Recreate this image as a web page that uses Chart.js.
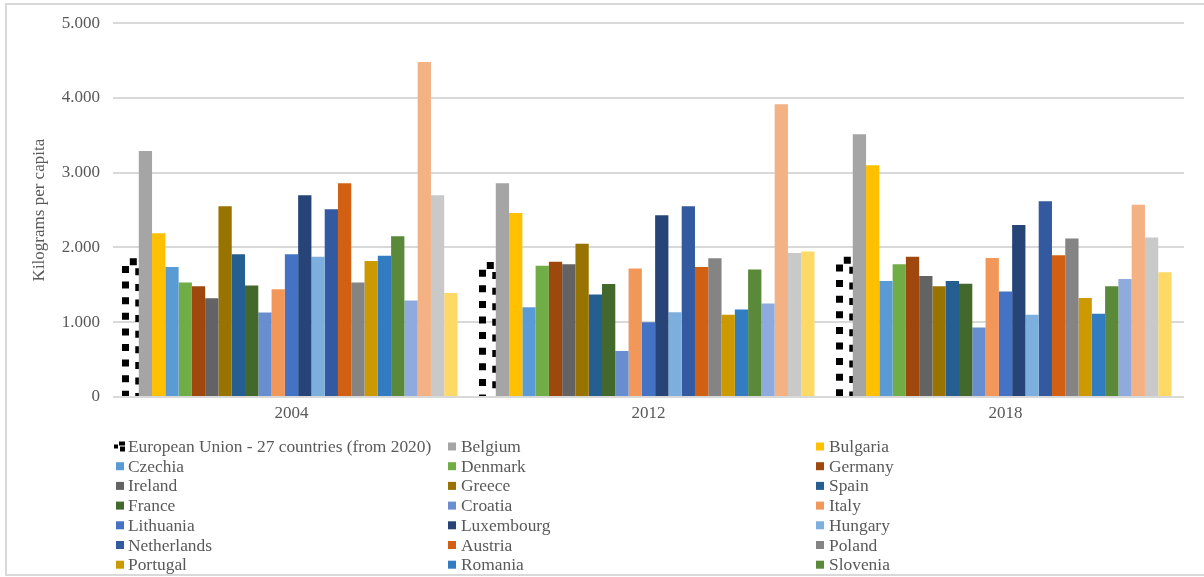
<!DOCTYPE html>
<html lang="en">
<head>
<meta charset="UTF-8">
<meta name="viewport" content="width=device-width, initial-scale=1.0">
<title>Kilograms per capita</title>
<style>
    html, body {
        margin: 0;
        padding: 0;
        background: #ffffff;
    }
    canvas {
        display: block;
    }
</style>
<script src="https://cdn.jsdelivr.net/npm/chart.js"></script>
</head>
<body>
<canvas id="wasteChart" width="1204" height="577"></canvas>
<script>
    // categories
    const years = ['2004', '2012', '2018'];

    // series, in the order they are drawn inside each year group
    const countries = [
        'European Union - 27 countries (from 2020)', 'Belgium', 'Bulgaria',
        'Czechia', 'Denmark', 'Germany',
        'Ireland', 'Greece', 'Spain',
        'France', 'Croatia', 'Italy',
        'Lithuania', 'Luxembourg', 'Hungary',
        'Netherlands', 'Austria', 'Poland',
        'Portugal', 'Romania', 'Slovenia',
        'Slovakia', 'Finland', 'Sweden', 'Norway'
    ];

    // kilograms per capita, one value per country
    const values2004 = [1810, 3290, 2190, 1740, 1530, 1480, 1320, 2550, 1910, 1490, 1130, 1440, 1910,
                        2700, 1875, 2510, 2860, 1530, 1820, 1890, 2150, 1290, 4480, 2700, 1390];
    const values2012 = [1760, 2860, 2460, 1200, 1755, 1810, 1775, 2050, 1370, 1510, 615, 1720, 1000,
                        2430, 1135, 2550, 1740, 1855, 1100, 1170, 1705, 1250, 3915, 1925, 1945];
    const values2018 = [1830, 3515, 3100, 1550, 1775, 1875, 1620, 1480, 1550, 1515, 930, 1860, 1410,
                        2300, 1100, 2620, 1895, 2120, 1325, 1115, 1480, 1580, 2570, 2135, 1670];

    // how many series the legend lists
    const legendCount = 21;

    const colours = [
        '#000000', '#A5A5A5', '#FFC000', '#5B9BD5', '#70AD47', '#9E480E',
        '#636363', '#997300', '#255E91', '#43682B', '#698ED0', '#F1975A',
        '#4472C4', '#264478', '#7CAFDD', '#335AA1', '#D26012', '#848484',
        '#CC9A00', '#327DC2', '#5A8A39', '#8FAADC', '#F4B183', '#C9C9C9', '#FFD966'
    ];

    const FONT = "'Liberation Serif', 'Times New Roman', serif";
    const TEXT = '#595959';
    const GRID = '#D9D9D9';

    const datasets = countries.map((name, i) => ({
        label: name,
        data: [values2004[i], values2012[i], values2018[i]],
        backgroundColor: i === 0 ? 'rgba(0,0,0,0)' : colours[i],
        borderWidth: 0
    }));

    function thousands(v) {
        return String(v).replace(/\B(?=(\d{3})+(?!\d))/g, '.');
    }

    // EU bars: no fill, thick square-dot outline drawn under the other bars
    const dottedOutline = {
        id: 'dottedOutline',
        beforeDatasetsDraw(chart) {
            const ctx = chart.ctx;
            const meta = chart.getDatasetMeta(0);
            const dash = 7, gap = 8.6, period = dash + gap;
            ctx.save();
            ctx.strokeStyle = '#000000';
            ctx.lineWidth = 7;
            ctx.lineCap = 'butt';
            ctx.setLineDash([dash, gap]);
            meta.data.forEach(bar => {
                const { x, y, base, width } = bar.getProps(['x', 'y', 'base', 'width'], true);
                const l = x - width / 2, r = x + width / 2;
                const h = base - y;
                // put a gap on the top-left corner
                ctx.lineDashOffset = period - ((h + gap / 2) % period);
                ctx.beginPath();
                ctx.moveTo(l, base);
                ctx.lineTo(l, y);
                ctx.lineTo(r, y);
                ctx.lineTo(r, base);
                ctx.stroke();
            });
            ctx.restore();
        }
    };

    // frame and three-column legend
    const frameAndLegend = {
        id: 'frameAndLegend',
        afterDraw(chart) {
            const ctx = chart.ctx;
            ctx.save();
            ctx.strokeStyle = GRID;
            ctx.lineWidth = 2;
            ctx.strokeRect(6, 4, 1220, 571);

            const markerX = [116, 448, 816];
            const textX = [128, 461, 829];
            const rowY = 446.5, rowStep = 19.7;
            ctx.font = '17.4px ' + FONT;
            ctx.textBaseline = 'middle';
            ctx.fillStyle = TEXT;
            for (let i = 0; i < legendCount; i++) {
                const col = i % 3, row = Math.floor(i / 3);
                const cy = rowY + row * rowStep;
                const mx = markerX[col];
                if (i === 0) {
                    ctx.fillStyle = '#000000';
                    ctx.fillRect(mx - 2, cy - 2, 4, 4);
                    ctx.fillRect(mx + 3, cy - 5, 6, 4);
                    ctx.fillRect(mx + 4, cy, 5, 5);
                } else {
                    ctx.fillStyle = colours[i];
                    ctx.fillRect(mx, cy - 4, 8, 8);
                }
                ctx.fillStyle = TEXT;
                ctx.fillText(countries[i], textX[col], cy + 1);
            }
            ctx.restore();
        }
    };

    new Chart(document.getElementById('wasteChart'), {
        type: 'bar',
        data: { labels: years, datasets: datasets },
        plugins: [dottedOutline, frameAndLegend],
        options: {
            responsive: false,
            animation: false,
            devicePixelRatio: 1,
            layout: { padding: { left: 0, top: 23, right: 20, bottom: 0 } },
            datasets: {
                bar: { categoryPercentage: 0.93, barPercentage: 1.0 }
            },
            plugins: {
                legend: { display: false },
                tooltip: { enabled: false }
            },
            scales: {
                x: {
                    grid: { display: false, drawTicks: false },
                    border: { display: false },
                    ticks: {
                        color: TEXT,
                        padding: 6,
                        font: { family: FONT, size: 17 }
                    },
                    afterFit(scale) { scale.height = 180; }
                },
                y: {
                    min: 0,
                    max: 5000,
                    grid: { color: GRID, lineWidth: 2, drawTicks: false },
                    border: { display: false },
                    ticks: {
                        stepSize: 1000,
                        color: TEXT,
                        padding: 13,
                        font: { family: FONT, size: 17 },
                        callback: v => thousands(v)
                    },
                    title: {
                        display: true,
                        text: 'Kilograms per capita',
                        color: TEXT,
                        font: { family: FONT, size: 17 },
                        padding: { top: 29, bottom: 0 }
                    },
                    afterFit(scale) { scale.width = 113; }
                }
            }
        }
    });
</script>
</body>
</html>
